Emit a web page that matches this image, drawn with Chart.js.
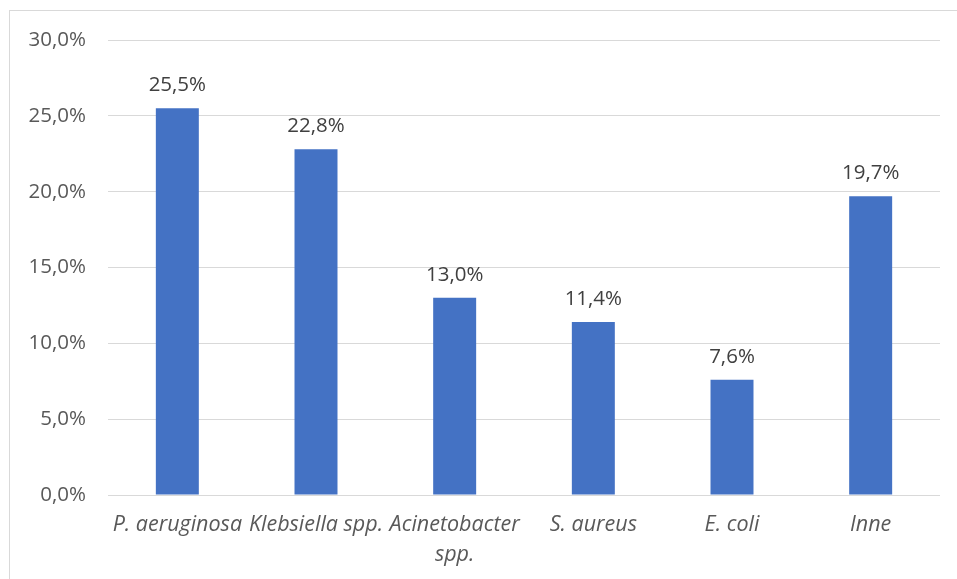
<!DOCTYPE html>
<html>
<head>
<meta charset="utf-8">
<script src="https://cdn.jsdelivr.net/npm/chart.js@4.4.1/dist/chart.umd.min.js"></script>
<style>
  html, body { margin: 0; padding: 0; background: #fff; }
  #wrap { position: relative; width: 957px; height: 579px; }
</style>
</head>
<body>
<div id="wrap"><canvas id="c" width="957" height="579"></canvas></div>
<script>
// Share of isolated pathogens (%)
const categories = ["P. aeruginosa", "Klebsiella spp.", ["Acinetobacter", "spp."], "S. aureus", "E. coli", "Inne"];
const shares = [25.5, 22.8, 13.0, 11.4, 7.6, 19.7];
const yTicks = [0, 5, 10, 15, 20, 25, 30];

const FONT = "'Open Sans', 'Noto Sans', sans-serif";
const fmt = v => v.toFixed(1).replace('.', ',') + '%';

// Light frame around the chart
const framePlugin = {
  id: 'frame',
  beforeDraw(chart) {
    const ctx = chart.ctx;
    ctx.save();
    ctx.strokeStyle = '#d9d9d9';
    ctx.lineWidth = 1;
    ctx.strokeRect(9.5, 10.5, chart.width + 20, chart.height + 20);
    ctx.restore();
  }
};

// Value labels above each bar
const valueLabels = {
  id: 'valueLabels',
  afterDatasetsDraw(chart) {
    const ctx = chart.ctx;
    const meta = chart.getDatasetMeta(0);
    ctx.save();
    ctx.font = "20.5px " + FONT;
    ctx.fillStyle = '#404040';
    ctx.textAlign = 'center';
    ctx.textBaseline = 'middle';
    meta.data.forEach((bar, i) => {
      ctx.fillText(fmt(shares[i]), bar.x, bar.y - 23);
    });
    ctx.restore();
  }
};

new Chart(document.getElementById('c'), {
  type: 'bar',
  data: {
    labels: categories,
    datasets: [{
      data: shares,
      backgroundColor: '#4472c4',
      borderWidth: 0,
      barPercentage: 0.31,
      categoryPercentage: 1.0
    }]
  },
  options: {
    responsive: false,
    animation: false,
    layout: { padding: { top: 40, right: 17, left: 0, bottom: 0 } },
    plugins: { legend: { display: false }, tooltip: { enabled: false } },
    scales: {
      x: {
        grid: { display: false, drawTicks: false },
        border: { display: false },
        ticks: {
          font: { family: FONT, size: 21.5, style: 'italic', lineHeight: 1.4 },
          color: '#595959',
          padding: 15,
          maxRotation: 0,
          autoSkip: false
        },
        afterFit(scale) { scale.height = 84; }
      },
      y: {
        min: 0,
        max: 30,
        afterBuildTicks(scale) { scale.ticks = yTicks.map(v => ({ value: v })); },
        grid: { color: '#d9d9d9', lineWidth: 1, drawTicks: false },
        border: { display: false },
        ticks: {
          font: { family: FONT, size: 20.5 },
          color: '#595959',
          padding: 22,
          callback: v => fmt(v)
        },
        afterFit(scale) { scale.width = 108; }
      }
    }
  },
  plugins: [framePlugin, valueLabels]
});
</script>
</body>
</html>
